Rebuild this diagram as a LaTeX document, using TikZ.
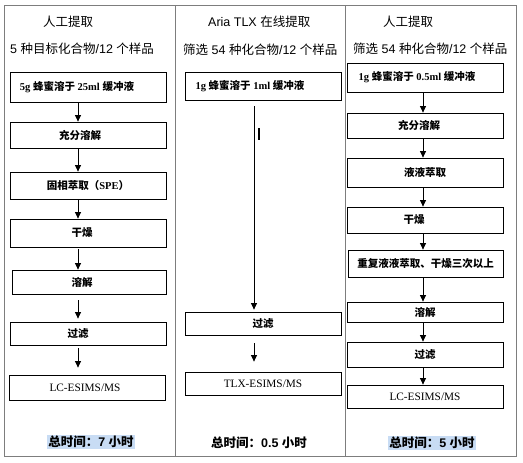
\documentclass[tikz,border=0pt]{standalone}
\usepackage{fontspec}
\setmainfont{Liberation Serif}
\newfontfamily\cjk{Noto Sans CJK SC}
\newfontfamily\arial{Liberation Sans}
\usetikzlibrary{arrows.meta}
\definecolor{hl}{RGB}{200,220,244}
\definecolor{tbl}{RGB}{125,125,125}
\newcommand\Bc[1]{{\cjk\bfseries #1}}
\newcommand\Bl[1]{{\bfseries #1}}
\newcommand\Nd[1]{\hspace*{#1}}
\newcommand\Ms[1]{{\fontsize{11.3}{13}\selectfont #1}}
\begin{document}
\begin{tikzpicture}[x=1pt,y=-1pt,
  box/.style={draw=black,line width=0.8pt,rectangle,minimum width=156pt,inner sep=0pt,
     font=\fontsize{10.5}{12}\selectfont},
  hdr/.style={anchor=west,inner sep=0pt,font=\fontsize{12.5}{14}\selectfont},
  tot/.style={inner sep=1pt,font=\fontsize{12.5}{14}\selectfont\bfseries},
  arr/.style={line width=0.8pt,-{Triangle[length=6.5pt,width=6pt]}}]
\useasboundingbox (0,0) rectangle (523,463);
% table frame
\draw[tbl,line width=1pt] (4,5) rectangle (516,456);
\draw[tbl,line width=1pt] (175,5) -- (175,456);
\draw[tbl,line width=1pt] (345,5) -- (345,456);
% headers
\node[hdr] (h1a) at (43,22) {\cjk 人工提取};
\node[hdr] (h1b) at (10,49) {\arial 5 \cjk 种目标化合物\arial /12 \cjk 个样品};
\node[hdr] (h2a) at (208,22) {\arial Aria TLX \cjk 在线提取};
\node[hdr] (h2b) at (183,50) {\cjk 筛选\arial{} 54 \cjk 种化合物\arial /12 \cjk 个样品};
\node[hdr] (h3a) at (383,22) {\cjk 人工提取};
\node[hdr] (h3b) at (353,49) {\cjk 筛选\arial{} 54 \cjk 种化合物\arial /12 \cjk 个样品};
% column 1
\coordinate (ca) at (78,0);
\node[box,minimum height=30pt] (a1) at (88,87) {\Nd{-22pt}\Bl{5g} \Bc{蜂蜜溶于} \Bl{25ml} \Bc{缓冲液}};
\node[box,minimum height=26pt] (a2) at (88,135) {\Nd{-16pt}\Bc{充分溶解}};
\node[box,minimum height=27pt] (a3) at (88,185.5) {\Bc{固相萃取（}\Bl{SPE}\Bc{）}};
\node[box,minimum height=28pt] (a4) at (88,233) {\Nd{-12pt}\Bc{干燥}};
\node[box,minimum height=24pt,minimum width=154pt] (a5) at (89,282) {\Nd{-14pt}\Bc{溶解}};
\node[box,minimum height=23pt] (a6) at (88,333.5) {\Nd{-20pt}\Bc{过滤}};
\node[box,minimum height=25pt] (a7) at (87,387.5) {\Nd{-4pt}\Ms{LC-ESIMS/MS}};
\draw[arr] (a1.south -| ca) -- (a2.north -| ca);
\draw[arr] (a2.south -| ca) -- (a3.north -| ca);
\draw[arr] (a3.south -| ca) -- (a4.north -| ca);
\draw[arr,shorten <=2pt] (a4.south -| ca) -- (a5.north -| ca);
\draw[arr,shorten <=6pt,shorten >=3pt] (a5.south -| ca) -- (a6.north -| ca);
\draw[arr,shorten <=3pt,shorten >=7pt] (a6.south -| ca) -- (a7.north -| ca);
\node[tot,fill=hl] (t1) at (91,442) {\cjk 总时间：\arial 7 \cjk 小时};
% column 2
\coordinate (cb) at (254,0);
\node[box,minimum height=28pt] (b1) at (263,86) {\Nd{-26pt}\Bl{1g} \Bc{蜂蜜溶于} \Bl{1ml} \Bc{缓冲液}};
\node[box,minimum height=23pt] (b2) at (263,323.5) {\Bc{过滤}};
\node[box,minimum height=23pt] (b3) at (263,383.5) {\Ms{TLX-ESIMS/MS}};
\draw[arr,shorten <=6pt,shorten >=2pt] (b1.south -| cb) -- (b2.north -| cb);
\draw[arr,shorten <=8pt,shorten >=10pt] (b2.south -| cb) -- (b3.north -| cb);
\coordinate (cur1) at (259,128);
\coordinate (cur2) at (259,140);
\draw[line width=1.5pt] (cur1) -- (cur2);
\node[tot] (t2) at (259,443) {\cjk 总时间：\arial 0.5 \cjk 小时};
% column 3
\coordinate (cc) at (423,0);
\node[box,minimum height=29pt] (c1) at (425,77.5) {\Nd{-16pt}\Bl{1g} \Bc{蜂蜜溶于} \Bl{0.5ml} \Bc{缓冲液}};
\node[box,minimum height=25pt] (c2) at (425,125.5) {\Nd{-12pt}\Bc{充分溶解}};
\node[box,minimum height=29pt] (c3) at (425,172.5) {\Bc{液液萃取}};
\node[box,minimum height=26pt] (c4) at (425,220) {\Nd{-22pt}\Bc{干燥}};
\node[box,minimum height=27pt,minimum width=155pt] (c5) at (425.5,263.5) {\Bc{重复液液萃取、干燥三次以上}};
\node[box,minimum height=20pt] (c6) at (425,312) {\Bc{溶解}};
\node[box,minimum height=25pt] (c7) at (425,354.5) {\Bc{过滤}};
\node[box,minimum height=23pt] (c8) at (425,396.5) {\Ms{LC-ESIMS/MS}};
\draw[arr] (c1.south -| cc) -- (c2.north -| cc);
\draw[arr] (c2.south -| cc) -- (c3.north -| cc);
\draw[arr] (c3.south -| cc) -- (c4.north -| cc);
\draw[arr] (c4.south -| cc) -- (c5.north -| cc);
\draw[arr] (c5.south -| cc) -- (c6.north -| cc);
\draw[arr] (c6.south -| cc) -- (c7.north -| cc);
\draw[arr] (c7.south -| cc) -- (c8.north -| cc);
\node[tot,fill=hl] (t3) at (432,443) {\cjk 总时间：\arial 5 \cjk 小时};
\end{tikzpicture}
\end{document}
